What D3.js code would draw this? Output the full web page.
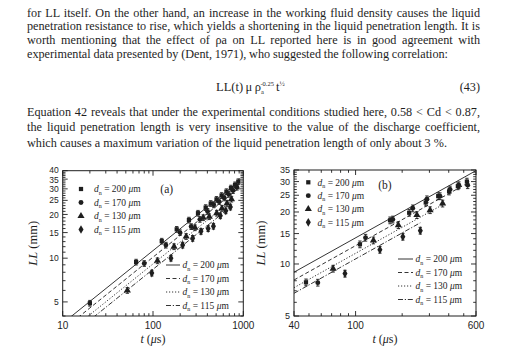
<!DOCTYPE html>
<html>
<head>
<meta charset="utf-8">
<script src="https://cdn.jsdelivr.net/npm/d3@7"></script>
<style>
  body { margin: 0; background: #fff; }
  svg { display: block; }
</style>
</head>
<body>
<svg id="page" width="507" height="350"></svg>
<script>
// ---------- Body text ----------
const paragraph1 = [
  "for LL itself. On the other hand, an increase in the working fluid density causes the liquid",
  "penetration resistance to rise, which yields a shortening in the liquid penetration length. It is",
  "worth mentioning that the effect of \u03c1a on LL reported here is in good agreement with",
  "experimental data presented by (Dent, 1971), who suggested the following correlation:"
];
const paragraph2 = [
  "Equation 42 reveals that under the experimental conditions studied here, 0.58 < Cd < 0.87,",
  "the liquid penetration length is very insensitive to the value of the discharge coefficient,",
  "which causes a maximum variation of the liquid penetration length of only about 3 %."
];
const equationNumber = "(43)";

// ---------- Shared series info ----------
const nozzleDiameters = ["200", "170", "130", "115"];   // d_n in micrometres
const fitExponent = 0.5;                                // LL ∝ t^0.5
const relError = 0.045;                                 // error bar half-height, fraction of LL

// ---------- Panel (a): t (μs) vs LL (mm) ----------
const tA200  = [20, 65, 125, 183, 250, 315, 383, 436, 505, 575, 650, 730, 810, 880];
const llA200 = [4.9, 9.4, 13.1, 15.8, 18.3, 20.4, 22.3, 23.8, 25.4, 27.0, 28.7, 30.4, 32.0, 33.6];
const tA170  = [80, 139, 199, 265, 331, 402, 470, 540, 615, 690, 770, 850];
const llA170 = [9.2, 12.3, 15.0, 16.5, 18.5, 21.0, 23.3, 24.5, 26.0, 27.5, 29.2, 30.8];
const tA130  = [52, 112, 171, 233, 292, 360, 420, 508, 580, 660, 740];
const llA130 = [6.0, 9.6, 12.0, 14.1, 16.2, 19.0, 19.3, 20.4, 22.0, 23.8, 25.5];
const tA115  = [97, 158, 213, 275, 340, 408, 467, 557, 640, 720];
const llA115 = [7.9, 10.0, 12.3, 13.7, 15.3, 16.0, 16.6, 19.6, 21.2, 22.5];
const fitCoefA = [1.127, 1.016, 0.913, 0.838];
const fitEndA  = [900, 850, 740, 720];
const xTicksA = [10, 100, 1000];
const yTicksA = [5, 10, 15, 20, 25, 30, 35, 40];

// ---------- Panel (b) ----------
const tB200  = [47.8, 106.7, 167, 222, 284, 342, 402, 458, 524];
const llB200 = [7.83, 13.0, 17.9, 19.8, 22.7, 24.7, 26.3, 28.2, 30.0];
const tB170  = [57, 116, 174, 234, 289, 351, 408, 465, 530];
const llB170 = [7.8, 14.2, 18.1, 21.0, 23.7, 24.7, 27.0, 28.6, 28.6];
const tB130  = [71.6, 130.4, 189, 249, 303, 365];
const llB130 = [9.4, 13.7, 16.8, 19.2, 20.5, 22.4];
const tB115  = [85.4, 143.6, 202, 262];
const llB115 = [8.8, 12.1, 14.4, 15.6];
const fitCoefB = [1.417, 1.277, 1.153, 1.07];
const fitEndB  = [600, 530, 365, 262];
const xTicksB = [40, 100, 600];
const yTicksB = [5, 10, 15, 20, 25, 30, 35];

// ---------- Styles ----------
const ink = "#1e1e1e";
const serif = "'Liberation Serif', 'Times New Roman', serif";
const sans = "'Liberation Sans', Arial, sans-serif";
const symbolTypes = [d3.symbolSquare, d3.symbolCircle, d3.symbolTriangle, d3.symbolDiamond];
const symbolSizes = [18, 19, 22, 22];
const dashes = [null, "4,2.5", "1.2,1.8", "5,1.8,1.2,1.8"];

const svg = d3.select("#page");
svg.append("rect").attr("width", 507).attr("height", 350).attr("fill", "#fff");

// Justified text line: spread words so the line ends at x + width
function textLine(str, x, y, width) {
  const t = svg.append("text")
    .attr("x", x).attr("y", y)
    .attr("font-family", serif).attr("font-size", 12.2)
    .attr("fill", ink).text(str);
  const natural = t.node().getComputedTextLength();
  const spaces = (str.match(/ /g) || []).length;
  if (spaces) t.attr("word-spacing", (width - natural) / spaces);
}

const p1Widths = [453, 453, 453, 421];
paragraph1.forEach((s, i) => textLine(s, 27, 16.7 + i * 13.7, p1Widths[i]));
const p2Widths = [453, 453, 420];
paragraph2.forEach((s, i) => textLine(s, 27, 115.5 + i * 15.5, p2Widths[i]));

// Correlation: LL(t) μ ρa^-0.25 t^½
const eq = svg.append("text").attr("x", 216).attr("y", 91)
  .attr("font-family", serif).attr("font-size", 12.5).attr("fill", ink);
eq.append("tspan").text("LL(t)\u2009\u03bc\u2009\u03c1");
eq.append("tspan").attr("font-size", 6.5).attr("dy", 2.5).text("a");
eq.append("tspan").attr("font-size", 6.5).attr("dx", -3.5).attr("dy", -8).text("-0.25");
eq.append("tspan").attr("dy", 5.5).attr("dx", 2).text("t");
eq.append("tspan").attr("font-size", 7).attr("dy", -5).text("\u00bd");
svg.append("text").attr("x", 480).attr("y", 91).attr("text-anchor", "end")
  .attr("font-family", serif).attr("font-size", 12.2).attr("fill", ink).text(equationNumber);

// ---------- Panel renderer ----------
function drawPanel(cfg) {
  const x = d3.scaleLog().domain(cfg.xDomain).range([cfg.left, cfg.right]);
  const y = d3.scaleLog().domain(cfg.yDomain).range([cfg.bottom, cfg.top]);
  const g = svg.append("g");
  const clipId = "clip-" + cfg.name;
  svg.append("clipPath").attr("id", clipId).append("rect")
    .attr("x", cfg.left).attr("y", cfg.top)
    .attr("width", cfg.right - cfg.left).attr("height", cfg.bottom - cfg.top);

  // Fit lines LL = C·t^0.5
  const line = d3.line().x(d => x(d[0])).y(d => y(d[1]));
  cfg.coefs.forEach((c, i) => {
    const t0 = cfg.xDomain[0], t1 = cfg.fitEnd[i];
    g.append("path")
      .attr("clip-path", `url(#${clipId})`)
      .attr("d", line([[t0, c * Math.pow(t0, fitExponent)], [t1, c * Math.pow(t1, fitExponent)]]))
      .attr("fill", "none").attr("stroke", ink).attr("stroke-width", 0.9)
      .attr("stroke-dasharray", dashes[i]);
  });

  // Data points with error bars
  cfg.series.forEach((s, i) => {
    const pts = s.t.map((t, k) => ({ t, ll: s.ll[k] }));
    const sg = g.append("g");
    pts.forEach(p => {
      const px = x(p.t), y0 = y(p.ll * (1 - relError)), y1 = y(p.ll * (1 + relError));
      sg.append("line").attr("x1", px).attr("x2", px).attr("y1", y0).attr("y2", y1)
        .attr("stroke", ink).attr("stroke-width", 0.9);
      [y0, y1].forEach(yy => sg.append("line")
        .attr("x1", px - 1.7).attr("x2", px + 1.7).attr("y1", yy).attr("y2", yy)
        .attr("stroke", ink).attr("stroke-width", 0.9));
    });
    sg.selectAll("path.pt").data(pts).join("path").attr("class", "pt")
      .attr("transform", p => `translate(${x(p.t)},${y(p.ll)})`)
      .attr("d", d3.symbol(symbolTypes[i], symbolSizes[i]))
      .attr("fill", ink);
  });

  // Frame
  g.append("rect").attr("x", cfg.left).attr("y", cfg.top)
    .attr("width", cfg.right - cfg.left).attr("height", cfg.bottom - cfg.top)
    .attr("fill", "none").attr("stroke", ink).attr("stroke-width", 1);

  // Inward ticks on all four sides
  const xMinor = [], yMinor = [];
  for (let d = 1; d <= 1000; d *= 10)
    for (let m = 1; m < 10; m++) {
      const v = m * d;
      if (v > cfg.xDomain[0] && v < cfg.xDomain[1] && !cfg.xTicks.includes(v)) xMinor.push(v);
    }
  for (let v = Math.ceil(cfg.yDomain[0]); v < cfg.yDomain[1]; v++)
    if (!cfg.yTicks.includes(v)) yMinor.push(v);

  const tick = (x1, y1, x2, y2) => g.append("line")
    .attr("x1", x1).attr("y1", y1).attr("x2", x2).attr("y2", y2)
    .attr("stroke", ink).attr("stroke-width", 0.9);
  cfg.xTicks.forEach(v => { tick(x(v), cfg.bottom, x(v), cfg.bottom - 5); tick(x(v), cfg.top, x(v), cfg.top + 5); });
  xMinor.forEach(v => { tick(x(v), cfg.bottom, x(v), cfg.bottom - 2.8); tick(x(v), cfg.top, x(v), cfg.top + 2.8); });
  cfg.yTicks.forEach(v => { tick(cfg.left, y(v), cfg.left + 5, y(v)); tick(cfg.right, y(v), cfg.right - 5, y(v)); });
  yMinor.forEach(v => { tick(cfg.left, y(v), cfg.left + 2.8, y(v)); tick(cfg.right, y(v), cfg.right - 2.8, y(v)); });

  // Tick labels (the two topmost labels of a crowded log axis are nudged apart)
  g.selectAll("text.xl").data(cfg.xTicks).join("text").attr("class", "xl")
    .attr("x", d => x(d)).attr("y", cfg.bottom + 13).attr("text-anchor", "middle")
    .attr("font-family", sans).attr("font-size", 10).attr("fill", ink).text(d => d);
  const nudge = cfg.yLabelNudge || {};
  g.selectAll("text.yl").data(cfg.yTicks).join("text").attr("class", "yl")
    .attr("x", cfg.left - 4).attr("y", d => y(d) + 3.1 + (nudge[d] || 0)).attr("text-anchor", "end")
    .attr("font-family", sans).attr("font-size", cfg.yLabelSize).attr("fill", ink).text(d => d);

  // Axis titles
  const yt = g.append("text")
    .attr("transform", `translate(${cfg.yTitleX},${(cfg.top + cfg.bottom) / 2}) rotate(-90)`)
    .attr("text-anchor", "middle").attr("font-family", serif).attr("font-size", 12.5).attr("fill", ink);
  yt.append("tspan").attr("font-style", "italic").text("LL");
  yt.append("tspan").text(" (mm)");
  const xt = g.append("text")
    .attr("x", (cfg.left + cfg.right) / 2).attr("y", 343)
    .attr("text-anchor", "middle").attr("font-family", serif).attr("font-size", 12).attr("fill", ink);
  xt.append("tspan").attr("font-style", "italic").text("t");
  xt.append("tspan").text(" (");
  xt.append("tspan").attr("font-style", "italic").text("\u03bc");
  xt.append("tspan").text("s)");

  // Panel letter
  g.append("text").attr("x", cfg.tag[0]).attr("y", cfg.tag[1]).attr("text-anchor", "middle")
    .attr("font-family", serif).attr("font-size", 11.5).attr("fill", ink).text(cfg.name === "a" ? "(a)" : "(b)");

  // Legend label: d_n = ### μm
  function legendLabel(lx, ly, d) {
    const t = g.append("text").attr("x", lx).attr("y", ly + 3.3)
      .attr("font-family", serif).attr("font-size", 9.5).attr("fill", ink);
    t.append("tspan").attr("font-style", "italic").text("d");
    t.append("tspan").attr("font-size", 6).attr("dy", 2.5).text("n");
    t.append("tspan").attr("dy", -2.5).text(` = ${d} `);
    t.append("tspan").attr("font-style", "italic").text("\u03bc");
    t.append("tspan").text("m");
  }
  // Symbol legend
  nozzleDiameters.forEach((d, i) => {
    const ly = cfg.symLeg.y0 + i * cfg.symLeg.dy;
    g.append("path").attr("transform", `translate(${cfg.symLeg.x},${ly})`)
      .attr("d", d3.symbol(symbolTypes[i], symbolSizes[i])).attr("fill", ink);
    legendLabel(cfg.symLeg.tx, ly, d);
  });
  // Line legend
  nozzleDiameters.forEach((d, i) => {
    const ly = cfg.lineLeg.y0 + i * cfg.lineLeg.dy;
    g.append("line").attr("x1", cfg.lineLeg.x0).attr("x2", cfg.lineLeg.x1)
      .attr("y1", ly).attr("y2", ly).attr("stroke", ink).attr("stroke-width", 0.9)
      .attr("stroke-dasharray", dashes[i]);
    legendLabel(cfg.lineLeg.x1 + 2.5, ly, d);
  });
}

drawPanel({
  name: "a",
  xDomain: [10, 1000], yDomain: [4, 40],
  left: 62.7, right: 243.3, top: 170.7, bottom: 316,
  xTicks: xTicksA, yTicks: yTicksA,
  yLabelSize: 8.5, yLabelNudge: { 40: -1.2, 35: 0.9 },
  coefs: fitCoefA, fitEnd: fitEndA,
  series: [
    { t: tA200, ll: llA200 }, { t: tA170, ll: llA170 },
    { t: tA130, ll: llA130 }, { t: tA115, ll: llA115 }
  ],
  yTitleX: 37, tag: [166.7, 193],
  symLeg: { x: 81, tx: 94, y0: 189, dy: 13.5 },
  lineLeg: { x0: 166, x1: 180, y0: 265, dy: 13.5 }
});

drawPanel({
  name: "b",
  xDomain: [40, 600], yDomain: [5, 35],
  left: 294, right: 476, top: 170, bottom: 316,
  xTicks: xTicksB, yTicks: yTicksB,
  yLabelSize: 9,
  coefs: fitCoefB, fitEnd: fitEndB,
  series: [
    { t: tB200, ll: llB200 }, { t: tB170, ll: llB170 },
    { t: tB130, ll: llB130 }, { t: tB115, ll: llB115 }
  ],
  yTitleX: 265, tag: [385, 189],
  symLeg: { x: 308.3, tx: 317.5, y0: 182.3, dy: 13.35 },
  lineLeg: { x0: 398, x1: 413, y0: 259, dy: 13.5 }
});
</script>
</body>
</html>
